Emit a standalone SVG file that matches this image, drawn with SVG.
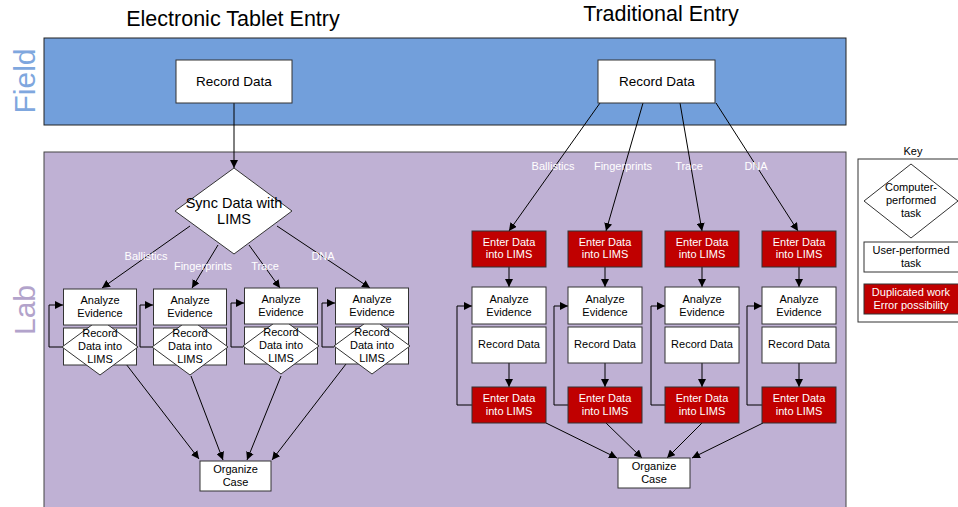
<svg xmlns="http://www.w3.org/2000/svg" width="958" height="507" viewBox="0 0 958 507">
<defs>
<marker id="ah" viewBox="0 0 10 10" refX="10" refY="5" markerWidth="8" markerHeight="8" markerUnits="userSpaceOnUse" orient="auto">
<path d="M0,0 L10,5 L0,10 z" fill="#000"/>
</marker>
<style>
.t{font-family:"Liberation Sans",Arial,sans-serif;font-size:11px;fill:#000;text-anchor:middle}
.w{fill:#fff}
.lbl{font-family:"Liberation Sans",Arial,sans-serif;font-size:11px;fill:#fff;text-anchor:middle}
.box{fill:#fff;stroke:#333;stroke-width:1}
.red{fill:#C00000;stroke:#333;stroke-width:1}
.ln{fill:none;stroke:#000;stroke-width:1}
.ar{fill:none;stroke:#000;stroke-width:1;marker-end:url(#ah)}
.title{font-family:"Liberation Sans",Arial,sans-serif;font-size:21.5px;fill:#000;text-anchor:middle}
</style>
</defs>
<rect width="958" height="507" fill="#fff"/>
<g id="bands">
<rect x="44" y="38" width="802" height="87" fill="#729FDB" stroke="#222" stroke-width="1"/>
<rect x="44" y="152" width="802" height="360" fill="#BFB1D4" stroke="#444" stroke-width="1"/>
<text x="35" y="81" transform="rotate(-90 35 81)" font-family="Liberation Sans,Arial,sans-serif" font-size="30" fill="#7FA7DE" text-anchor="middle">Field</text>
<text x="35" y="310" transform="rotate(-90 35 310)" font-family="Liberation Sans,Arial,sans-serif" font-size="30" fill="#B2A3CB" text-anchor="middle">Lab</text>
<text class="title" x="233" y="26">Electronic Tablet Entry</text>
<text class="title" x="661" y="21">Traditional Entry</text>
</g>
<g id="connectors">
<path class="ar" d="M234,103 V168"/>
<path class="ar" d="M190,226 L102,288"/>
<path class="ar" d="M218,245 L192,288"/>
<path class="ar" d="M249,245 L280,288"/>
<path class="ar" d="M277,226 L370,288"/>
<path class="ar" d="M62,347 H49 V305 H63"/>
<path class="ar" d="M152,347 H140 V305 H153"/>
<path class="ar" d="M243,347 H231 V303 H244"/>
<path class="ar" d="M334,347 H322 V303 H335"/>
<path class="ar" d="M126,364 L199,459"/>
<path class="ar" d="M191,376 L223,460"/>
<path class="ar" d="M281,376 L247,460"/>
<path class="ar" d="M346,364 L272,460"/>
<path class="ar" d="M600,103 L509,231"/>
<path class="ar" d="M643,103 L606,231"/>
<path class="ar" d="M680,103 L702,231"/>
<path class="ar" d="M716,103 L798,231"/>
<path class="ar" d="M509,267 V287"/>
<path class="ar" d="M605,267 V287"/>
<path class="ar" d="M702,267 V287"/>
<path class="ar" d="M799,267 V287"/>
<path class="ar" d="M509,363 V387"/>
<path class="ar" d="M605,363 V387"/>
<path class="ar" d="M702,363 V387"/>
<path class="ar" d="M799,363 V387"/>
<path class="ar" d="M472,405 H457 V306 H472"/>
<path class="ar" d="M568,405 H554 V306 H568"/>
<path class="ar" d="M665,405 H651 V306 H665"/>
<path class="ar" d="M762,405 H747 V306 H762"/>
<path class="ar" d="M546,423 L617,458"/>
<path class="ar" d="M606,423 L642,458"/>
<path class="ar" d="M702,423 L667,458"/>
<path class="ar" d="M763,423 L692,458"/>
<text class="lbl" x="146" y="260">Ballistics</text>
<text class="lbl" x="203" y="270">Fingerprints</text>
<text class="lbl" x="265" y="270">Trace</text>
<text class="lbl" x="323" y="260">DNA</text>
<text class="lbl" x="553" y="170">Ballistics</text>
<text class="lbl" x="623" y="170">Fingerprints</text>
<text class="lbl" x="689" y="170">Trace</text>
<text class="lbl" x="756" y="170">DNA</text>
</g>
<g id="left-record">
<rect class="box" x="176" y="60" width="116" height="43"/>
<text class="t" x="234" y="86" style="font-size:13.5px">Record Data</text>
</g>
<g id="right-record">
<rect class="box" x="598" y="60" width="117" height="43"/>
<text class="t" x="657" y="86" style="font-size:13.5px">Record Data</text>
</g>
<g id="sync">
<path class="box" d="M234,168 L292,211 L234,254 L175,211 z"/>
<text class="t" x="234" y="208" style="font-size:14.5px">Sync Data with</text>
<text class="t" x="234" y="224" style="font-size:14.5px">LIMS</text>
</g>
<g id="left-col1">
<rect class="box" x="63.5" y="328" width="73" height="37"/>
<path class="box" d="M100,319 L138,347 L100,375 L62,347 z"/>
<rect class="box" x="63.5" y="289" width="73" height="36"/>
<text class="t" x="100" y="304">Analyze</text><text class="t" x="100" y="317">Evidence</text>
<text class="t" x="100" y="337">Record</text><text class="t" x="100" y="350">Data into</text><text class="t" x="100" y="363">LIMS</text>
</g>
<g id="left-col2">
<rect class="box" x="153.5" y="328" width="73" height="37"/>
<path class="box" d="M190,319 L228,347 L190,375 L152,347 z"/>
<rect class="box" x="153.5" y="289" width="73" height="36"/>
<text class="t" x="190" y="304">Analyze</text><text class="t" x="190" y="317">Evidence</text>
<text class="t" x="190" y="337">Record</text><text class="t" x="190" y="350">Data into</text><text class="t" x="190" y="363">LIMS</text>
</g>
<g id="left-col3">
<rect class="box" x="244.5" y="327" width="73" height="37"/>
<path class="box" d="M281,318 L319,346 L281,374 L243,346 z"/>
<rect class="box" x="244.5" y="288" width="73" height="36"/>
<text class="t" x="281" y="303">Analyze</text><text class="t" x="281" y="316">Evidence</text>
<text class="t" x="281" y="336">Record</text><text class="t" x="281" y="349">Data into</text><text class="t" x="281" y="362">LIMS</text>
</g>
<g id="left-col4">
<rect class="box" x="335.5" y="327" width="73" height="37"/>
<path class="box" d="M372,318 L410,346 L372,374 L334,346 z"/>
<rect class="box" x="335.5" y="288" width="73" height="36"/>
<text class="t" x="372" y="303">Analyze</text><text class="t" x="372" y="316">Evidence</text>
<text class="t" x="372" y="336">Record</text><text class="t" x="372" y="349">Data into</text><text class="t" x="372" y="362">LIMS</text>
</g>
<g id="left-organize">
<rect class="box" x="200" y="461" width="71" height="30"/>
<text class="t" x="235.5" y="473">Organize</text><text class="t" x="235.5" y="486">Case</text>
</g>
<g id="right-col1">
<rect class="red" x="472" y="231" width="74" height="36"/>
<text class="t w" x="509" y="246">Enter Data</text><text class="t w" x="509" y="258">into LIMS</text>
<rect class="box" x="472" y="287" width="74" height="37"/>
<text class="t" x="509" y="303">Analyze</text><text class="t" x="509" y="316">Evidence</text>
<rect class="box" x="472" y="327" width="74" height="36"/>
<text class="t" x="509" y="348">Record Data</text>
<rect class="red" x="472" y="387" width="74" height="36"/>
<text class="t w" x="509" y="402">Enter Data</text><text class="t w" x="509" y="415">into LIMS</text>
</g>
<g id="right-col2">
<rect class="red" x="568" y="231" width="74" height="36"/>
<text class="t w" x="605" y="246">Enter Data</text><text class="t w" x="605" y="258">into LIMS</text>
<rect class="box" x="568" y="287" width="74" height="37"/>
<text class="t" x="605" y="303">Analyze</text><text class="t" x="605" y="316">Evidence</text>
<rect class="box" x="568" y="327" width="74" height="36"/>
<text class="t" x="605" y="348">Record Data</text>
<rect class="red" x="568" y="387" width="74" height="36"/>
<text class="t w" x="605" y="402">Enter Data</text><text class="t w" x="605" y="415">into LIMS</text>
</g>
<g id="right-col3">
<rect class="red" x="665" y="231" width="74" height="36"/>
<text class="t w" x="702" y="246">Enter Data</text><text class="t w" x="702" y="258">into LIMS</text>
<rect class="box" x="665" y="287" width="74" height="37"/>
<text class="t" x="702" y="303">Analyze</text><text class="t" x="702" y="316">Evidence</text>
<rect class="box" x="665" y="327" width="74" height="36"/>
<text class="t" x="702" y="348">Record Data</text>
<rect class="red" x="665" y="387" width="74" height="36"/>
<text class="t w" x="702" y="402">Enter Data</text><text class="t w" x="702" y="415">into LIMS</text>
</g>
<g id="right-col4">
<rect class="red" x="762" y="231" width="74" height="36"/>
<text class="t w" x="799" y="246">Enter Data</text><text class="t w" x="799" y="258">into LIMS</text>
<rect class="box" x="762" y="287" width="74" height="37"/>
<text class="t" x="799" y="303">Analyze</text><text class="t" x="799" y="316">Evidence</text>
<rect class="box" x="762" y="327" width="74" height="36"/>
<text class="t" x="799" y="348">Record Data</text>
<rect class="red" x="762" y="387" width="74" height="36"/>
<text class="t w" x="799" y="402">Enter Data</text><text class="t w" x="799" y="415">into LIMS</text>
</g>
<g id="right-organize">
<rect class="box" x="618" y="458" width="72" height="30"/>
<text class="t" x="654" y="470">Organize</text><text class="t" x="654" y="483">Case</text>
</g>
<g id="key">
<text class="t" x="913" y="155">Key</text>
<rect class="box" x="858" y="159" width="110" height="163"/>
<path class="box" d="M911,164 L958,201 L911,238 L864,201 z"/>
<text class="t" x="911" y="191">Computer-</text>
<text class="t" x="911" y="204">performed</text>
<text class="t" x="911" y="217">task</text>
<rect class="box" x="864" y="242" width="104" height="30"/>
<text class="t" x="911" y="254">User-performed</text>
<text class="t" x="911" y="267">task</text>
<rect class="red" x="864" y="284" width="104" height="30"/>
<text class="t w" x="911" y="296">Duplicated work</text>
<text class="t w" x="911" y="309">Error possibility</text>
</g>
</svg>
